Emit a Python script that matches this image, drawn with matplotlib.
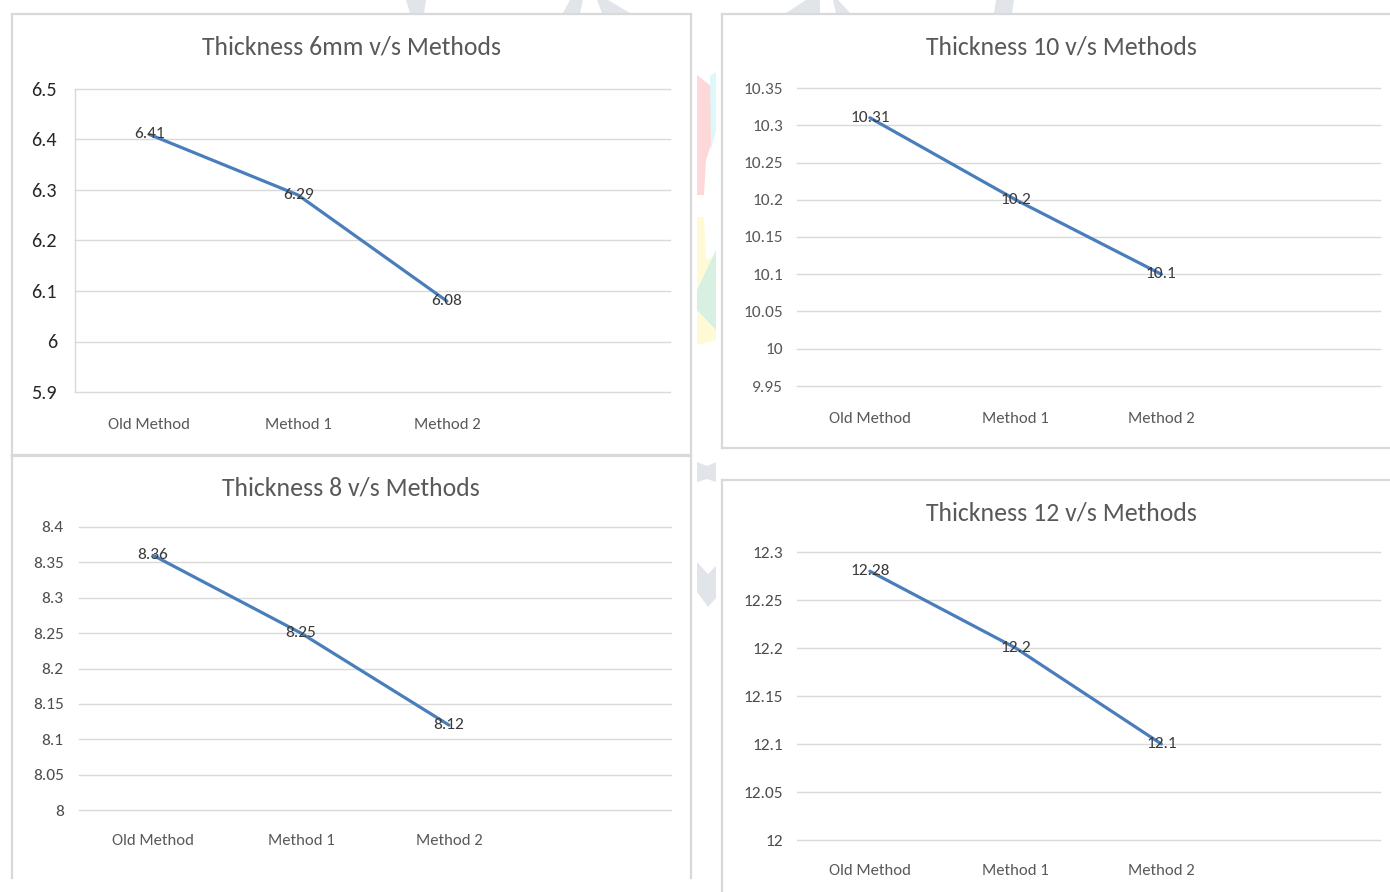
import matplotlib
matplotlib.use("Agg")
import matplotlib.pyplot as plt
from matplotlib import font_manager
from matplotlib.patches import Rectangle, Polygon
from matplotlib.lines import Line2D

# ---- data ----
methods = ["Old Method", "Method 1", "Method 2"]
thick_6 = [6.41, 6.29, 6.08]
thick_10 = [10.31, 10.2, 10.1]
thick_8 = [8.36, 8.25, 8.12]
thick_12 = [12.28, 12.2, 12.1]

titles = ["Thickness 6mm v/s Methods", "Thickness 10 v/s Methods",
          "Thickness 8 v/s Methods", "Thickness 12 v/s Methods"]
yticks_6 = [5.9, 6, 6.1, 6.2, 6.3, 6.4, 6.5]
yticks_10 = [9.95, 10, 10.05, 10.1, 10.15, 10.2, 10.25, 10.3, 10.35]
yticks_8 = [8, 8.05, 8.1, 8.15, 8.2, 8.25, 8.3, 8.35, 8.4]
yticks_12 = [12, 12.05, 12.1, 12.15, 12.2, 12.25, 12.3]

# ---- fonts ----
available = {f.name for f in font_manager.fontManager.ttflist}
family = "Lato"
for cand in ["Carlito", "Calibri", "Lato"]:
    if cand in available:
        family = cand
        break
plt.rcParams["font.family"] = [family, "DejaVu Sans"]

W, H = 1390, 892
fig = plt.figure(figsize=(W / 100, H / 100), dpi=100)
fig.patch.set_facecolor("white")

LINE = "#4a7ebb"
GRID = "#d9d9d9"
TITLE_C = "#595959"
FRAME = "#d9d9d9"


def fx(x):
    return x / W


def fy(y):
    return 1 - y / H


# faint background logo, visible only between the chart frames
wm_gray = "#e1e5ea"
shapes = [
    ([(406, 0), (426, 0), (424, 13), (410, 13)], wm_gray),
    ([(570, 0), (583, 0), (580, 13), (563, 13)], wm_gray),
    ([(597, 0), (608, 0), (630, 13), (602, 13)], wm_gray),
    ([(806, 0), (820, 0), (820, 13), (786, 13)], wm_gray),
    ([(833, 0), (838, 0), (850, 13), (836, 13)], wm_gray),
    ([(996, 0), (1014, 0), (1012, 13), (994, 13)], wm_gray),
    ([(697, 75), (716, 90), (716, 130), (706, 160), (704, 195), (697, 195)], "#fdd8d8"),
    ([(710, 76), (716, 72), (716, 130), (711, 150)], "#dcf8f8"),
    ([(697, 217), (704, 217), (706, 260), (716, 255), (716, 340), (697, 345)], "#fffad6"),
    ([(697, 290), (716, 250), (716, 330), (697, 310)], "#d8f0e2"),
    ([(697, 462), (707, 466), (716, 462), (716, 482), (707, 479), (697, 482)], wm_gray),
    ([(697, 562), (708, 574), (716, 566), (716, 598), (708, 607), (697, 592)], wm_gray),
]
for pts, col in shapes:
    fig.patches.append(Polygon([(fx(x), fy(y)) for x, y in pts], closed=True,
                               transform=fig.transFigure, facecolor=col,
                               edgecolor="none", zorder=0))

# chart frames: (left, top, right, bottom, draw bottom edge) in pixels
frames = [(12, 14, 691, 455, True), (722, 14, 1392, 448, True),
          (12, 456, 691, 878, False), (722, 480, 1392, 900, False)]
for (l, t, r, b, bottom) in frames:
    fig.patches.append(Rectangle((fx(l), fy(b)), fx(r - l), (b - t) / H,
                                 transform=fig.transFigure, facecolor="white",
                                 edgecolor="none", zorder=1))
    edges = [((l, l), (t, b)), ((l, r), (t, t)), ((r, r), (t, b))]
    if bottom:
        edges.append(((l, r), (b, b)))
    for xs_, ys_ in edges:
        fig.lines.append(Line2D([fx(v) for v in xs_], [fy(v) for v in ys_],
                                transform=fig.transFigure, color=FRAME,
                                linewidth=1.6, zorder=1.5))

# plot areas: (left, top, right, bottom) in pixels
plot_boxes = [(75, 89, 670, 392), (797, 88, 1380, 386),
              (79, 527, 671, 810), (797, 552, 1380, 840)]
series = [thick_6, thick_10, thick_8, thick_12]
ticksets = [yticks_6, yticks_10, yticks_8, yticks_12]
title_y = [47, 47, 488, 513]
ytick_size = [14.5, 12.5, 12.5, 12.5]
ytick_color = ["#262626", "#595959", "#4d4d4d", "#4d4d4d"]
ytick_pad = [13, 10, 11, 10]
xtick_pad = [19, 19, 17, 17]
title_cx = [351, 1061, 351, 1061]

for i in range(4):
    l, t, r, b = plot_boxes[i]
    ax = fig.add_axes([fx(l), fy(b), fx(r - l), (b - t) / H], zorder=2)
    ax.set_facecolor("none")
    ticks = ticksets[i]
    ax.set_ylim(ticks[0], ticks[-1])
    ax.set_xlim(-0.5, 3.5)
    ax.set_yticks(ticks)
    ax.set_yticklabels([f"{v:g}" for v in ticks])
    ax.set_xticks(range(len(methods)))
    ax.set_xticklabels(methods)
    ax.grid(axis="y", color=GRID, linewidth=1.0)
    for gl in ax.get_ygridlines():
        gl.set_clip_on(False)
    ax.set_axisbelow(True)
    for s in ax.spines.values():
        s.set_visible(False)
    if i == 0:
        ax.spines["left"].set_visible(True)
        ax.spines["left"].set_color(GRID)
        ax.spines["left"].set_linewidth(1.0)
    ax.tick_params(axis="y", length=0, pad=ytick_pad[i],
                   labelsize=ytick_size[i], labelcolor=ytick_color[i])
    ax.tick_params(axis="x", length=0, pad=xtick_pad[i], labelsize=12,
                   labelcolor="#595959")

    vals = series[i]
    xs = list(range(len(vals)))
    ax.plot(xs, vals, color=LINE, linewidth=2.3, solid_capstyle="round", zorder=3)
    for x, v in zip(xs, vals):
        ax.text(x, v, f"{v:g}", ha="center", va="center", fontsize=12.5,
                color="#3a3a3a", zorder=4)

    fig.text(fx(title_cx[i]), fy(title_y[i]), titles[i], ha="center", va="center",
             fontsize=18.5, color=TITLE_C, zorder=5)

fig.savefig("out.png", dpi=100, facecolor="white")
